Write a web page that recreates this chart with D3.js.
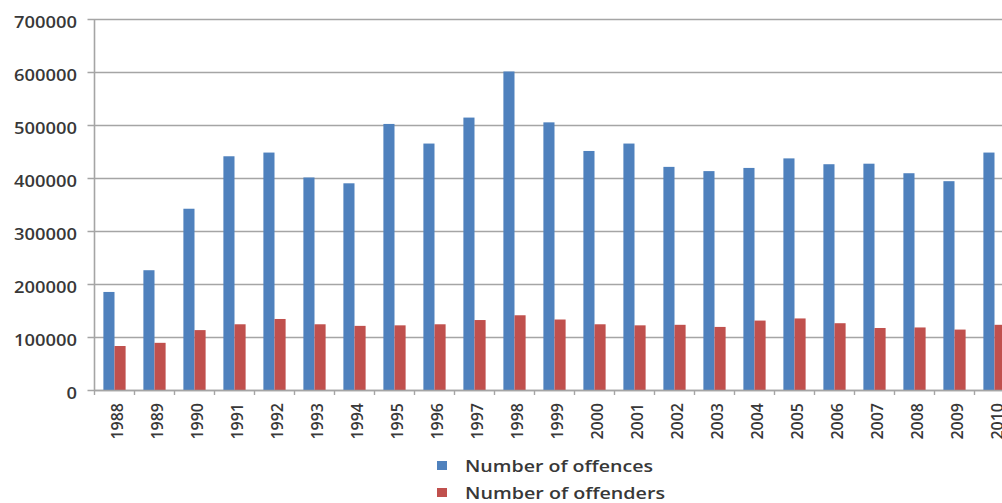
<!DOCTYPE html>
<html>
<head>
<meta charset="utf-8">
<script src="https://cdn.jsdelivr.net/npm/d3@7"></script>
<style>
  html, body { margin: 0; padding: 0; background: #fff; }
  svg { display: block; font-family: "Open Sans", "Noto Sans", sans-serif; }
</style>
</head>
<body>
<svg id="chart" width="1002" height="503"></svg>
<script>
// Offences and offenders recorded per year
const years = ["1988","1989","1990","1991","1992","1993","1994","1995","1996","1997","1998","1999",
               "2000","2001","2002","2003","2004","2005","2006","2007","2008","2009","2010"];
const offences = [185000, 226000, 342000, 441000, 448000, 401000, 390000, 502000, 465000, 514000, 601000, 505000,
                  451000, 465000, 421000, 413000, 419000, 437000, 426000, 427000, 409000, 394000, 448000];
const offenders = [83000, 89000, 113000, 124000, 134000, 124000, 121000, 122000, 124000, 132000, 141000, 133000,
                   124000, 122000, 123000, 119000, 131000, 135000, 126000, 117000, 118000, 114000, 123000];
const seriesNames = ["Number of offences", "Number of offenders"];
const seriesColors = ["#4f81bd", "#c0504d"];
const yTicks = [0, 100000, 200000, 300000, 400000, 500000, 600000, 700000];

const svg = d3.select("#chart");
const plotLeft = 94.5, plotTop = 19, plotBottom = 390;
const step = 40;
const textColor = "#383838";

const x = d3.scaleBand().domain(years).range([plotLeft, plotLeft + step * years.length]).padding(0);
const xs = d3.scaleBand().domain([0, 1]).range([0, x.bandwidth()]).paddingInner(0).paddingOuter(0.8);
const y = d3.scaleLinear().domain([0, 700000]).range([plotBottom, plotTop]);

const gridColor = "#a5a5a5";

// horizontal gridlines with short ticks left of the axis
svg.append("g").selectAll("line").data(yTicks).join("line")
  .attr("x1", plotLeft - 7).attr("x2", 1002)
  .attr("y1", d => Math.round(y(d)) + 0.5).attr("y2", d => Math.round(y(d)) + 0.5)
  .attr("stroke", gridColor).attr("stroke-width", 1.6);

// y-axis line
svg.append("line")
  .attr("x1", plotLeft).attr("x2", plotLeft).attr("y1", y(700000)).attr("y2", y(0))
  .attr("stroke", gridColor).attr("stroke-width", 1.6);

// y tick labels
svg.append("g").selectAll("text").data(yTicks).join("text")
  .attr("transform", d => `translate(77,${y(d) + 8.5}) scale(1.08,1)`)
  .attr("text-anchor", "end")
  .attr("font-size", 17).attr("font-weight", 600)
  .attr("fill", textColor)
  .text(d => d3.format("d")(d));

// bars
const groups = svg.append("g").selectAll("g").data(years).join("g")
  .attr("transform", d => `translate(${x(d)},0)`);
groups.selectAll("rect")
  .data((d, i) => [offences[i], offenders[i]])
  .join("rect")
  .attr("x", (d, j) => xs(j))
  .attr("width", xs.bandwidth())
  .attr("y", d => y(d))
  .attr("height", d => y(0) - y(d))
  .attr("fill", (d, j) => seriesColors[j]);

// x-axis baseline and category ticks
svg.append("line")
  .attr("x1", plotLeft).attr("x2", 1002).attr("y1", plotBottom + 0.5).attr("y2", plotBottom + 0.5)
  .attr("stroke", gridColor).attr("stroke-width", 1.6);
const bounds = years.map(d => x(d)).concat([x(years[years.length - 1]) + step]);
svg.append("g").selectAll("line").data(bounds).join("line")
  .attr("x1", d => d).attr("x2", d => d)
  .attr("y1", plotBottom).attr("y2", plotBottom + 5)
  .attr("stroke", gridColor).attr("stroke-width", 1.4);

// rotated year labels
svg.append("g").selectAll("text").data(years).join("text")
  .attr("transform", d => `translate(${x(d) + x.bandwidth() / 2 + 8},403) rotate(-90)`)
  .attr("text-anchor", "end")
  .attr("font-size", 16).attr("font-weight", 600)
  .attr("fill", textColor)
  .text(d => d);

// legend
const legend = svg.append("g").selectAll("g").data(seriesNames).join("g")
  .attr("transform", (d, i) => `translate(437,${461 + i * 27})`);
legend.append("rect")
  .attr("width", 10).attr("height", 9)
  .attr("fill", (d, i) => seriesColors[i]);
legend.append("text")
  .attr("x", 28).attr("y", 11)
  .attr("font-size", 16).attr("font-weight", 600)
  .attr("textLength", (d, i) => i === 0 ? 188 : 200)
  .attr("lengthAdjust", "spacingAndGlyphs")
  .attr("fill", textColor)
  .text(d => d);
</script>
</body>
</html>
